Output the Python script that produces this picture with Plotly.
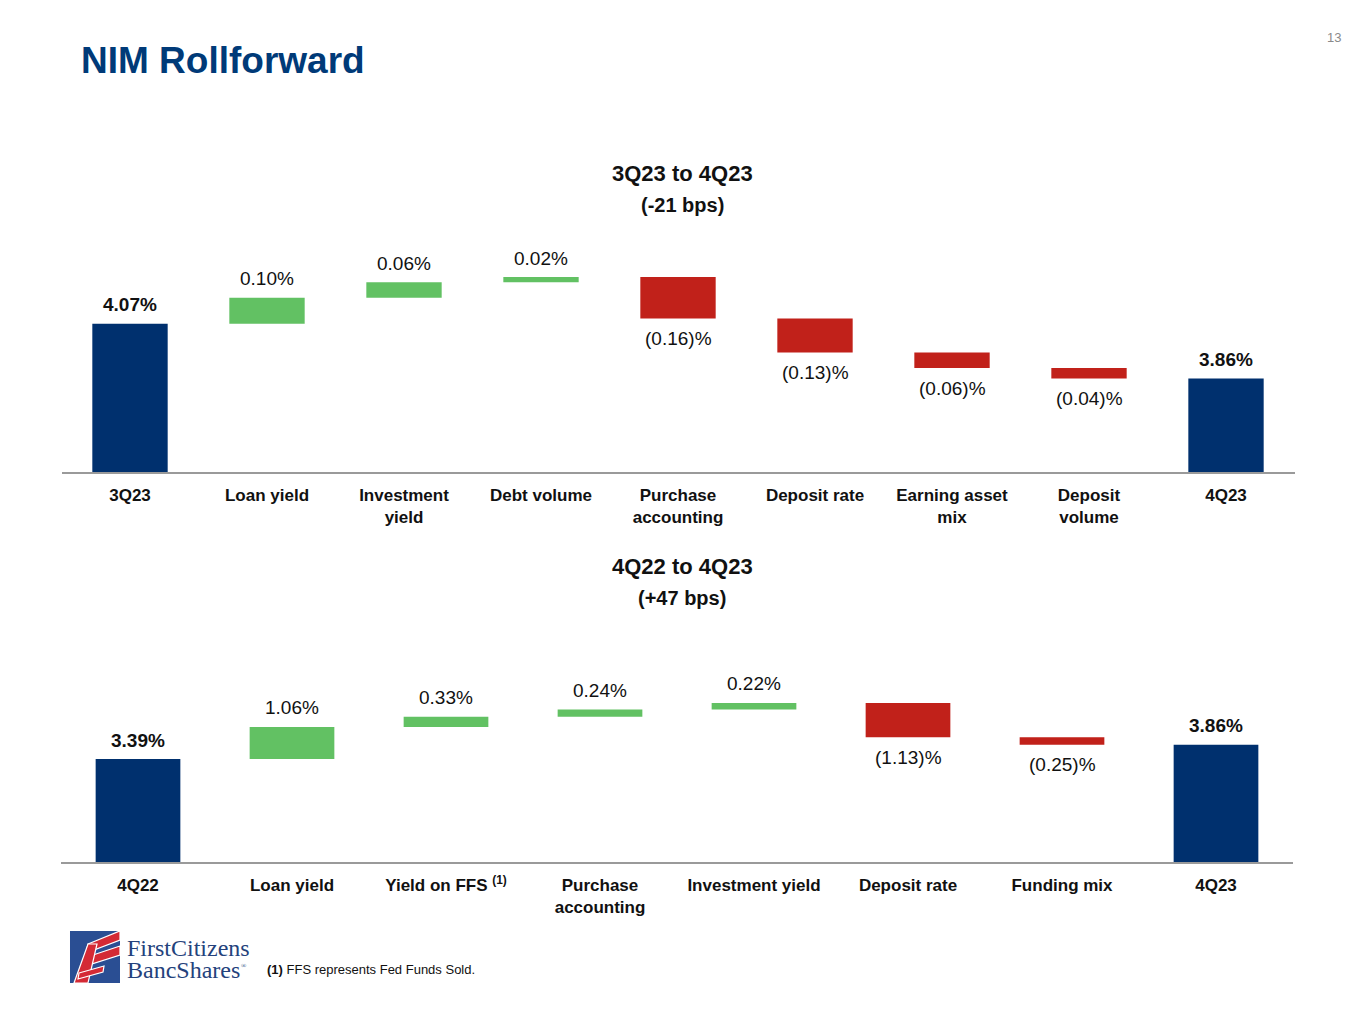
import plotly.graph_objects as go

# ---------------- data ----------------
top_categories = ["3Q23", "Loan yield", "Investment<br>yield", "Debt volume",
                  "Purchase<br>accounting", "Deposit rate", "Earning asset<br>mix",
                  "Deposit<br>volume", "4Q23"]
top_values = [4.07, 0.10, 0.06, 0.02, -0.16, -0.13, -0.06, -0.04, 3.86]
top_measures = ["absolute"] + ["relative"] * 7 + ["total"]

bot_categories = ["4Q22", "Loan yield", "Yield on FFS <sup>(1)</sup>",
                  "Purchase<br>accounting", "Investment yield", "Deposit rate",
                  "Funding mix", "4Q23"]
bot_values = [3.39, 1.06, 0.33, 0.24, 0.22, -1.13, -0.25, 3.86]
bot_measures = ["absolute"] + ["relative"] * 6 + ["total"]

top_title = "3Q23 to 4Q23"
top_sub = "(-21 bps)"
bot_title = "4Q22 to 4Q23"
bot_sub = "(+47 bps)"

# ---------------- styles ----------------
NAVY = "#00306E"
GREEN = "#62C163"
RED = "#C1211A"
TITLE_BLUE = "#003A78"
FONT = "Liberation Sans"
W, H = 1365, 1024
OFF = 8  # page body margin


def px_x(p):
    return (p - OFF) / W


def px_y(p):
    return 1 - (p - OFF) / H


def value_labels(cats, values, measures, xref, yref):
    out = []
    level = 0.0
    for c, v, m in zip(cats, values, measures):
        if m == "absolute":
            level = v
            y, shift, txt = v, 19, "<b>%.2f%%</b>" % v
        elif m == "total":
            y, shift, txt = level, 19, "<b>%.2f%%</b>" % level
        else:
            start = level
            level = level + v
            if v >= 0:
                y, shift, txt = level, 19, "%.2f%%" % v
            else:
                y, shift, txt = level, -20, "(%.2f)%%" % abs(v)
        out.append(dict(x=c, y=y, xref=xref, yref=yref, text=txt, showarrow=False,
                        yshift=shift, xanchor="center", yanchor="middle",
                        font=dict(family=FONT, size=19, color="#111111")))
    return out


fig = go.Figure()

common = dict(
    connector=dict(visible=False),
    increasing=dict(marker=dict(color=GREEN)),
    decreasing=dict(marker=dict(color=RED)),
    totals=dict(marker=dict(color=NAVY)),
    showlegend=False,
    hoverinfo="skip",
)

fig.add_trace(go.Waterfall(x=top_categories, y=top_values, measure=top_measures,
                           xaxis="x", yaxis="y", **common))
fig.add_trace(go.Waterfall(x=bot_categories, y=bot_values, measure=bot_measures,
                           xaxis="x2", yaxis="y2", **common))

xcommon = dict(showline=True, linecolor="#9A9A9A", linewidth=1.5,
               ticks="", showgrid=False, zeroline=False, ticklabelstandoff=7,
               tickfont=dict(family=FONT, size=17, color="#111111", weight="bold"),
               fixedrange=True)
ycommon = dict(visible=False, showgrid=False, zeroline=False, fixedrange=True)

fig.update_layout(
    width=W, height=H,
    margin=dict(l=0, r=0, t=0, b=0),
    paper_bgcolor="white", plot_bgcolor="white",
    font=dict(family=FONT),
    waterfallgap=0.45,
    xaxis=dict(domain=[px_x(61.5), px_x(1294.5)], anchor="y", **xcommon),
    yaxis=dict(domain=[px_y(472), px_y(264)], range=[3.5, 4.3], anchor="x", **ycommon),
    xaxis2=dict(domain=[px_x(61), px_x(1293)], anchor="y2", **xcommon),
    yaxis2=dict(domain=[px_y(862), px_y(695)], range=[0, 5.5], anchor="x2", **ycommon),
)

ann = []
ann += value_labels(top_categories, top_values, top_measures, "x", "y")
ann += value_labels(bot_categories, bot_values, bot_measures, "x2", "y2")

page = []
page.append(dict(text="<b>NIM Rollforward</b>", x=px_x(79), y=px_y(60), xanchor="left",
                 yanchor="middle", font=dict(family=FONT, size=37, color=TITLE_BLUE)))
page.append(dict(text="13", x=px_x(1343), y=px_y(37), xanchor="right", yanchor="middle",
                 font=dict(family=FONT, size=13, color="#8A8A8A")))
for t, y, s in [(top_title, 173, 22), (top_sub, 205, 20), (bot_title, 566, 22), (bot_sub, 598, 20)]:
    page.append(dict(text="<b>%s</b>" % t, x=px_x(682), y=px_y(y), xanchor="center",
                     yanchor="middle", font=dict(family=FONT, size=s, color="#111111")))
page.append(dict(text="<b>(1)</b> FFS represents Fed Funds Sold.", x=px_x(265), y=px_y(969),
                 xanchor="left", yanchor="middle", font=dict(family=FONT, size=13, color="#111111")))
# logo text
page.append(dict(text="FirstCitizens", x=px_x(125), y=px_y(948), xanchor="left", yanchor="middle",
                 font=dict(family="Liberation Serif", size=24, color="#24427C")))
page.append(dict(text="BancShares", x=px_x(125), y=px_y(970), xanchor="left", yanchor="middle",
                 font=dict(family="Liberation Serif", size=24, color="#24427C")))
page.append(dict(text="®", x=px_x(239), y=px_y(966), xanchor="left", yanchor="middle",
                 font=dict(family="Liberation Serif", size=7, color="#24427C")))
for a in page:
    a.update(xref="paper", yref="paper", showarrow=False)
fig.update_layout(annotations=ann + page)


def poly(points, color, lw=0.0):
    path = "M " + " L ".join("%f,%f" % (px_x(a), px_y(b)) for a, b in points) + " Z"
    return dict(type="path", xref="paper", yref="paper", path=path, fillcolor=color,
                line=dict(color="white", width=lw), layer="above")


shapes = [poly([(70, 931), (120, 931), (120, 983), (70, 983)], "#2A4E93")]
# stylised red "FF" flag
shapes.append(poly([(88, 944), (120, 931), (120, 940), (86, 953)], "#D42A35", 1.2))
shapes.append(poly([(84, 958), (120, 946), (120, 955), (82, 967)], "#D42A35", 1.2))
shapes.append(poly([(74, 983), (88, 983), (97, 944), (88, 944)], "#D42A35", 1.2))
shapes.append(poly([(79, 973), (104, 966), (103, 972), (78, 979)], "#D42A35", 1.2))
fig.update_layout(shapes=shapes)

fig.write_html("out.html")
